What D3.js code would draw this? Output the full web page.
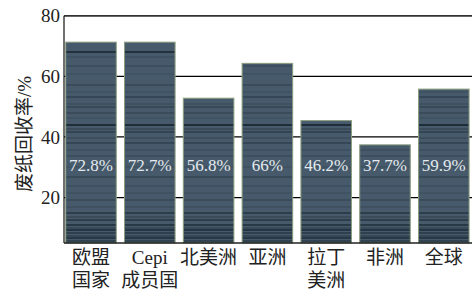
<!DOCTYPE html>
<html>
<head>
<meta charset="utf-8">
<script src="https://cdn.jsdelivr.net/npm/d3@7"></script>
<style>
  body { margin: 0; background: #fff; }
  text { font-family: "Liberation Serif", "Noto Sans CJK SC", serif; }
</style>
</head>
<body>
<div class="chart"></div>
<script>
const categories = [["欧盟", "国家"], ["Cepi", "成员国"], ["北美洲"], ["亚洲"], ["拉丁", "美洲"], ["非洲"], ["全球"]];
const barValues = [71.3, 71.3, 52.8, 64.3, 45.4, 37.4, 55.8];
const valueLabels = ["72.8%", "72.7%", "56.8%", "66%", "46.2%", "37.7%", "59.9%"];
const yTicks = [20, 40, 60, 80];

const width = 472;
const height = 290;
const margin = { top: 15.8, right: 0, bottom: 47, left: 64 };

// texture of the bars: dark horizontal streaks (y in px, opacity)
const streaks = [
  [52, 0.85], [57, 0.2], [66, 0.25], [74, 0.15], [85, 0.3], [92, 0.15], [97, 0.4],
  [104, 0.2], [107, 0.35], [113, 0.3], [118, 0.15], [125, 0.9], [129, 0.3],
  [132, 0.45], [138, 0.25], [143, 0.4], [150, 0.2], [156, 0.25], [167, 0.15],
  [177, 0.35], [186, 0.2], [193, 0.15], [200, 0.3], [207, 0.2], [213, 0.6],
  [217, 0.3], [220, 0.6], [225, 0.7], [228, 0.35], [230, 0.75], [233, 0.55],
  [236, 0.4], [238, 0.7], [241, 0.5]
];

const x = d3.scaleBand()
  .domain(d3.range(categories.length))
  .range([61.6, 473.2])
  .paddingInner(0.14)
  .paddingOuter(0.07);

const y = d3.scaleLinear()
  .domain([5, 80])
  .range([height - margin.bottom, margin.top]);

const svg = d3.select('.chart')
  .append('svg')
  .attr('width', width)
  .attr('height', height);

const defs = svg.append('defs');
const pat = defs.append('pattern')
  .attr('id', 'tex')
  .attr('patternUnits', 'userSpaceOnUse')
  .attr('width', width)
  .attr('height', height);
pat.append('rect').attr('width', width).attr('height', height).attr('fill', '#475a6b');
pat.selectAll('rect.s')
  .data(streaks)
  .enter()
  .append('rect')
  .attr('class', 's')
  .attr('x', 0)
  .attr('width', width)
  .attr('y', d => d[0] - 0.8)
  .attr('height', 1.6)
  .attr('fill', '#101c26')
  .attr('opacity', d => d[1]);

// gridlines behind bars
svg.selectAll('line.grid')
  .data(yTicks.slice(0, 3))
  .enter()
  .append('line')
  .attr('class', 'grid')
  .attr('x1', margin.left)
  .attr('x2', width)
  .attr('y1', d => y(d))
  .attr('y2', d => y(d))
  .attr('stroke', '#000')
  .attr('stroke-width', 1.2);

svg.selectAll('rect.bar')
  .data(barValues)
  .enter()
  .append('rect')
  .attr('class', 'bar')
  .attr('x', (d, i) => x(i))
  .attr('width', x.bandwidth())
  .attr('y', d => y(d))
  .attr('height', d => y(5) - y(d))
  .attr('fill', 'url(#tex)')
  .attr('stroke', '#8b9d7e')
  .attr('stroke-width', 1);

svg.selectAll('text.val')
  .data(valueLabels)
  .enter()
  .append('text')
  .attr('class', 'val')
  .attr('x', (d, i) => x(i) + x.bandwidth() / 2)
  .attr('y', 171)
  .attr('text-anchor', 'middle')
  .attr('font-size', 17)
  .attr('fill', '#e4eaee')
  .text(d => d);

// spines
svg.append('line')
  .attr('x1', margin.left).attr('x2', width)
  .attr('y1', margin.top).attr('y2', margin.top)
  .attr('stroke', '#333').attr('stroke-width', 1.8);
svg.append('line')
  .attr('x1', margin.left).attr('x2', width)
  .attr('y1', y(5)).attr('y2', y(5))
  .attr('stroke', '#222').attr('stroke-width', 1.6);
svg.append('line')
  .attr('x1', margin.left).attr('x2', margin.left)
  .attr('y1', margin.top).attr('y2', y(5))
  .attr('stroke', '#111').attr('stroke-width', 1.2);

svg.selectAll('text.tick')
  .data(yTicks)
  .enter()
  .append('text')
  .attr('class', 'tick')
  .attr('x', 60)
  .attr('y', d => y(d))
  .attr('dy', '0.35em')
  .attr('text-anchor', 'end')
  .attr('font-size', 19)
  .attr('fill', '#222')
  .text(d => d);

const xl = svg.selectAll('text.cat')
  .data(categories)
  .enter()
  .append('text')
  .attr('class', 'cat')
  .attr('text-anchor', 'middle')
  .attr('font-size', 19)
  .attr('fill', '#222');
xl.selectAll('tspan')
  .data((d, i) => d.map(s => ({ s, i })))
  .enter()
  .append('tspan')
  .attr('x', d => x(d.i) + x.bandwidth() / 2)
  .attr('y', (d, j) => 264 + j * 23)
  .text(d => d.s);

svg.append('text')
  .attr('transform', 'translate(31,134) rotate(-90)')
  .attr('text-anchor', 'middle')
  .attr('font-size', 19)
  .attr('fill', '#222')
  .text('废纸回收率/%');
</script>
</body>
</html>
